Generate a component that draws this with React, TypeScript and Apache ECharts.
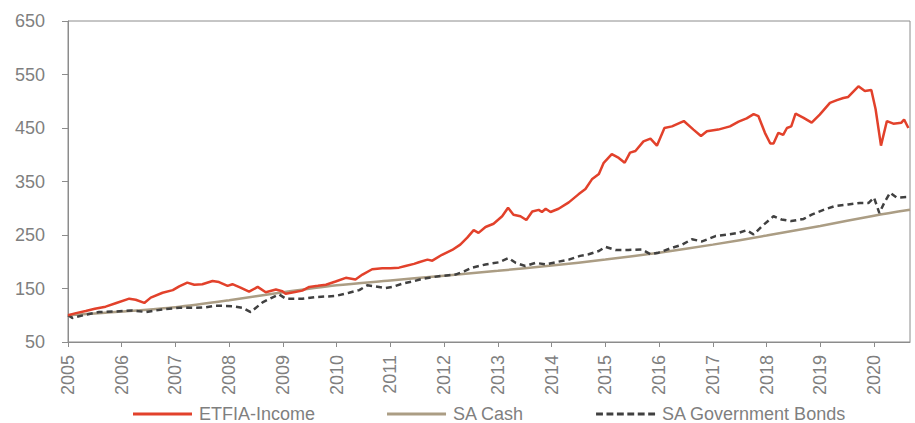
import React, { useEffect, useRef } from "react";
import * as echarts from "echarts";

const seriesNames = ["ETFIA-Income", "SA Cash", "SA Government Bonds"];
const yTicks = { min: 50, max: 650, step: 100 };
const xRange = { min: 2005, max: 2020.67, step: 1 };

const etfiaIncome: [number, number][] = [
  [2005.0, 100], [2005.15, 104], [2005.33, 108], [2005.5, 112], [2005.7, 116], [2005.9, 123],
  [2006.14, 131], [2006.26, 129], [2006.42, 123], [2006.54, 133], [2006.76, 142], [2006.95, 147],
  [2007.07, 154], [2007.22, 161], [2007.35, 157], [2007.5, 158], [2007.69, 164], [2007.81, 162],
  [2007.97, 155], [2008.06, 158], [2008.2, 152], [2008.37, 144], [2008.53, 153], [2008.68, 143],
  [2008.87, 148], [2008.99, 145], [2009.05, 140], [2009.2, 143], [2009.36, 146], [2009.49, 153],
  [2009.65, 155], [2009.8, 157], [2009.98, 163], [2010.17, 170], [2010.35, 167], [2010.48, 176],
  [2010.66, 186], [2010.85, 188], [2011.0, 188], [2011.16, 189], [2011.28, 192], [2011.44, 196],
  [2011.53, 199], [2011.69, 204], [2011.78, 202], [2011.96, 213], [2012.15, 222], [2012.3, 232],
  [2012.43, 245], [2012.55, 259], [2012.64, 254], [2012.77, 265], [2012.92, 271], [2013.08, 285],
  [2013.19, 301], [2013.29, 288], [2013.42, 285], [2013.53, 278], [2013.64, 294], [2013.76, 297],
  [2013.82, 293], [2013.89, 299], [2013.98, 293], [2014.13, 299], [2014.32, 311], [2014.5, 326],
  [2014.63, 336], [2014.75, 354], [2014.88, 364], [2014.97, 385], [2015.12, 401], [2015.25, 394],
  [2015.36, 385], [2015.46, 404], [2015.56, 407], [2015.71, 425], [2015.84, 430], [2015.96, 417],
  [2016.1, 450], [2016.24, 453], [2016.46, 463], [2016.64, 447], [2016.78, 435], [2016.89, 444],
  [2017.1, 447], [2017.32, 453], [2017.48, 462], [2017.63, 468], [2017.76, 476], [2017.85, 472],
  [2017.97, 441], [2018.07, 421], [2018.13, 421], [2018.22, 441], [2018.31, 437], [2018.38, 450],
  [2018.46, 453], [2018.54, 477], [2018.69, 469], [2018.84, 460], [2018.99, 475], [2019.18, 497],
  [2019.31, 502], [2019.43, 506], [2019.52, 508], [2019.71, 528], [2019.83, 519], [2019.95, 521],
  [2020.03, 485], [2020.13, 417], [2020.24, 463], [2020.36, 458], [2020.51, 460], [2020.56, 466],
  [2020.64, 450],
];

const saCash: [number, number][] = [
  [2005, 100], [2006, 107], [2007, 115], [2008, 128], [2009, 143], [2010, 156], [2011, 165],
  [2012, 174], [2013, 183], [2014, 193], [2015, 204], [2016, 217], [2017, 232], [2018, 249],
  [2019, 267], [2020, 286], [2020.67, 297],
];

const saGovBonds: [number, number][] = [
  [2005.0, 100], [2005.08, 95], [2005.33, 101], [2005.58, 106], [2005.9, 107], [2006.2, 109],
  [2006.45, 106], [2006.76, 111], [2007.07, 114], [2007.38, 114], [2007.57, 115], [2007.75, 118],
  [2008.06, 117], [2008.25, 114], [2008.4, 106], [2008.62, 124], [2008.8, 133], [2008.93, 139],
  [2009.05, 131], [2009.36, 131], [2009.61, 134], [2009.98, 136], [2010.23, 142], [2010.42, 147],
  [2010.57, 156], [2010.72, 154], [2010.91, 151], [2011.04, 153], [2011.22, 159], [2011.41, 163],
  [2011.59, 168], [2011.9, 173], [2012.21, 176], [2012.37, 182], [2012.52, 189], [2012.77, 195],
  [2013.02, 199], [2013.2, 207], [2013.33, 198], [2013.51, 192], [2013.7, 198], [2013.89, 195],
  [2014.07, 199], [2014.32, 204], [2014.53, 211], [2014.69, 214], [2014.88, 220], [2015.0, 228],
  [2015.19, 222], [2015.43, 222], [2015.68, 223], [2015.84, 214], [2015.99, 217], [2016.24, 226],
  [2016.43, 232], [2016.61, 242], [2016.8, 238], [2017.05, 248], [2017.29, 251], [2017.48, 254],
  [2017.63, 259], [2017.76, 251], [2017.91, 266], [2018.13, 285], [2018.28, 279], [2018.46, 276],
  [2018.69, 280], [2018.84, 288], [2019.09, 298], [2019.27, 304], [2019.52, 307], [2019.74, 310],
  [2019.9, 310], [2020.0, 320], [2020.1, 291], [2020.19, 310], [2020.3, 329], [2020.42, 320],
  [2020.64, 321],
];

const AXIS_FONT = "'Liberation Sans', Arial, sans-serif";
const SOLID_ICON = "path://M0,0H60V3H0Z";
const DASH_ICON =
  "path://M0,0h7v3h-7z M10.6,0h7v3h-7z M21.2,0h7v3h-7z M31.8,0h7v3h-7z M42.4,0h7v3h-7z M53,0h7v3h-7z";

export default function App() {
  const ref = useRef<HTMLDivElement>(null);
  useEffect(() => {
    if (!ref.current) return;
    const chart = echarts.init(ref.current, undefined, { renderer: "svg" });
    chart.setOption({
      animation: false,
      backgroundColor: "#ffffff",
      grid: {
        left: 68,
        right: 5,
        top: 21,
        bottom: 81,
        show: true,
        borderColor: "#8c8c8c",
        borderWidth: 1,
      },
      legend: {
        left: 128,
        top: 400,
        itemWidth: 59,
        itemHeight: 3,
        itemGap: 72,
        textStyle: { fontFamily: AXIS_FONT, fontSize: 18, color: "#7f7f7f", padding: [0, 0, 0, 2] },
        data: [
          { name: seriesNames[0], icon: SOLID_ICON },
          { name: seriesNames[1], icon: SOLID_ICON },
          { name: seriesNames[2], icon: DASH_ICON },
        ],
      },
      xAxis: {
        type: "value",
        min: xRange.min,
        max: xRange.max,
        interval: xRange.step,
        splitLine: { show: false },
        axisLine: { lineStyle: { color: "#8c8c8c", width: 1 } },
        axisTick: { show: true, length: 5, lineStyle: { color: "#8c8c8c" } },
        axisLabel: {
          rotate: 90,
          margin: 13,
          showMaxLabel: false,
          fontFamily: AXIS_FONT,
          fontSize: 18,
          color: "#7f7f7f",
          formatter: (v: number) => (Number.isInteger(v) ? String(v) : ""),
        },
      },
      yAxis: {
        type: "value",
        min: yTicks.min,
        max: yTicks.max,
        interval: yTicks.step,
        splitLine: { show: false },
        axisLine: { show: true, lineStyle: { color: "#8c8c8c", width: 1 } },
        axisTick: { show: true, length: 6, lineStyle: { color: "#8c8c8c" } },
        axisLabel: {
          margin: 23,
          fontFamily: AXIS_FONT,
          fontSize: 18,
          color: "#7f7f7f",
        },
      },
      series: [
        {
          name: seriesNames[0],
          type: "line",
          data: etfiaIncome,
          showSymbol: false,
          symbol: "none",
          lineStyle: { color: "#e2412b", width: 2.5 },
          itemStyle: { color: "#e2412b" },
          z: 3,
        },
        {
          name: seriesNames[1],
          type: "line",
          data: saCash,
          showSymbol: false,
          symbol: "none",
          smooth: 0.3,
          lineStyle: { color: "#ab9d84", width: 2.5 },
          itemStyle: { color: "#ab9d84" },
          z: 2,
        },
        {
          name: seriesNames[2],
          type: "line",
          data: saGovBonds,
          showSymbol: false,
          symbol: "none",
          lineStyle: { color: "#404040", width: 2.5, type: [6, 4] },
          itemStyle: { color: "#404040" },
          z: 2,
        },
      ],
    });
    return () => chart.dispose();
  }, []);
  return (
    <div
      ref={ref}
      style={{ position: "fixed", left: 0, top: 0, width: 915, height: 423 }}
    />
  );
}
